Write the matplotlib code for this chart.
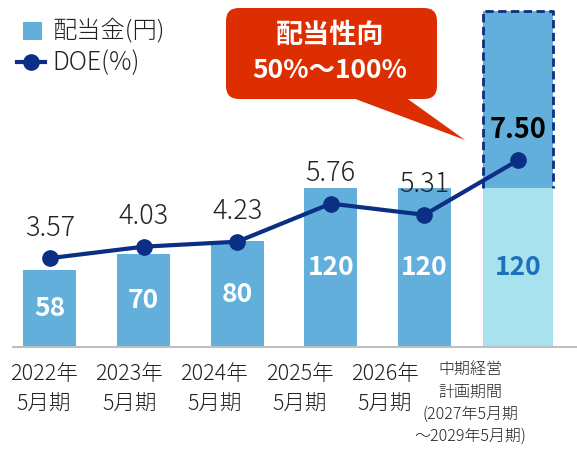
import matplotlib
matplotlib.use("Agg")
import matplotlib.pyplot as plt
from matplotlib.patches import FancyBboxPatch, Polygon, Rectangle

plt.rcParams['font.family'] = ['Noto Sans CJK JP', 'DejaVu Sans']

# data
periods = ["2022年\n5月期", "2023年\n5月期", "2024年\n5月期", "2025年\n5月期", "2026年\n5月期",
           "中期経営\n計画期間\n(2027年5月期\n～2029年5月期)"]
dividend = [58, 70, 80, 120, 120, 120]
dividend_plan_top = 254
doe = [3.57, 4.03, 4.23, 5.76, 5.31, 7.50]
legend_labels = ["配当金(円)", "DOE(%)"]
callout_lines = ["配当性向", "50%～100%"]

BLUE = "#63AFDC"
LIGHT = "#A9E2EF"
NAVY = "#0B2F84"
RED = "#DC2E00"
TEXT = "#222222"

W, H = 577, 449
fig = plt.figure(figsize=(W / 100, H / 100), dpi=100)
ax = fig.add_axes([13 / W, (H - 347) / H, 564 / W, 347 / H])

x = list(range(len(dividend)))
widths = [0.566] * 5 + [0.75]
colors = [BLUE] * 5 + [LIGHT]
ax.bar(x, dividend, width=widths, color=colors, zorder=2)

# plan range above the last bar
last = x[-1]
ax.bar(last, dividend_plan_top - dividend[-1], bottom=dividend[-1], width=widths[-1],
       color=BLUE, zorder=2)
hw = widths[-1] / 2
ax.plot([last - hw, last - hw, last + hw, last + hw],
        [dividend[-1], dividend_plan_top, dividend_plan_top, dividend[-1]],
        color=NAVY, lw=2, ls=(0, (3, 1.6)), zorder=3)

for i, v in enumerate(dividend):
    c = "white" if i < 5 else "#1A72BC"
    ax.text(i, v / 2, str(v), ha="center", va="center", color=c,
            fontsize=19, fontweight="bold", zorder=4)

ax.set_xlim(-0.395, 5.63)
ax.set_ylim(0, 262)
ax.set_xticks([])
ax.set_yticks([])
for s in ["top", "right", "left"]:
    ax.spines[s].set_visible(False)
ax.spines["bottom"].set_color("#BFBFBF")
ax.spines["bottom"].set_linewidth(1.5)

ax2 = ax.twinx()
ax2.set_ylim(0, 13.94)
ax2.plot(x, doe, color=NAVY, lw=3, marker="o", markersize=11, zorder=5)
for i, v in enumerate(doe):
    bold = i == len(doe) - 1
    ax2.annotate(f"{v:.2f}", (i, v), xytext=(0, 22), textcoords="offset points",
                 ha="center", va="center", fontsize=19.5, color="black" if bold else TEXT,
                 fontweight="bold" if bold else "light")
ax2.axis("off")

# category labels below the axis
for i, lab in enumerate(periods[:-1]):
    fig.text((44 + 85.2 * i) / W, 1 - 389.5 / H, lab, ha="center", va="center",
             fontsize=15.5, color=TEXT, linespacing=1.55, fontweight="light")
fig.text(470 / W, 1 - 403 / H, periods[-1], ha="center", va="center",
         fontsize=11.5, color=TEXT, linespacing=1.38, fontweight="light")

# overlay in pixel coordinates for legend and speech bubble
ov = fig.add_axes([0, 0, 1, 1], zorder=10)
ov.set_xlim(0, W)
ov.set_ylim(H, 0)
ov.axis("off")

ov.add_patch(Rectangle((23, 22), 19, 18, facecolor=BLUE, edgecolor="none"))
ov.plot([17, 45], [62, 62], color=NAVY, lw=3)
ov.plot([31], [62], color=NAVY, marker="o", markersize=11)
ov.text(52, 31, legend_labels[0], ha="left", va="center", fontsize=17.5,
        color=TEXT, fontweight="light")
ov.text(52, 63, legend_labels[1], ha="left", va="center", fontsize=18,
        color=TEXT, fontweight="light")

ov.add_patch(FancyBboxPatch((226, 8), 211, 91, boxstyle="round,pad=0,rounding_size=13",
                            facecolor=RED, edgecolor="none"))
ov.add_patch(Polygon([(350, 97), (405, 97), (465, 140)], closed=True,
                     facecolor=RED, edgecolor="none"))
ov.text(330, 35, callout_lines[0], ha="center", va="center", color="white",
        fontsize=19.5, fontweight="bold")
ov.text(330, 70, callout_lines[1], ha="center", va="center", color="white",
        fontsize=19, fontweight="bold")

fig.savefig("out.png", dpi=100)
